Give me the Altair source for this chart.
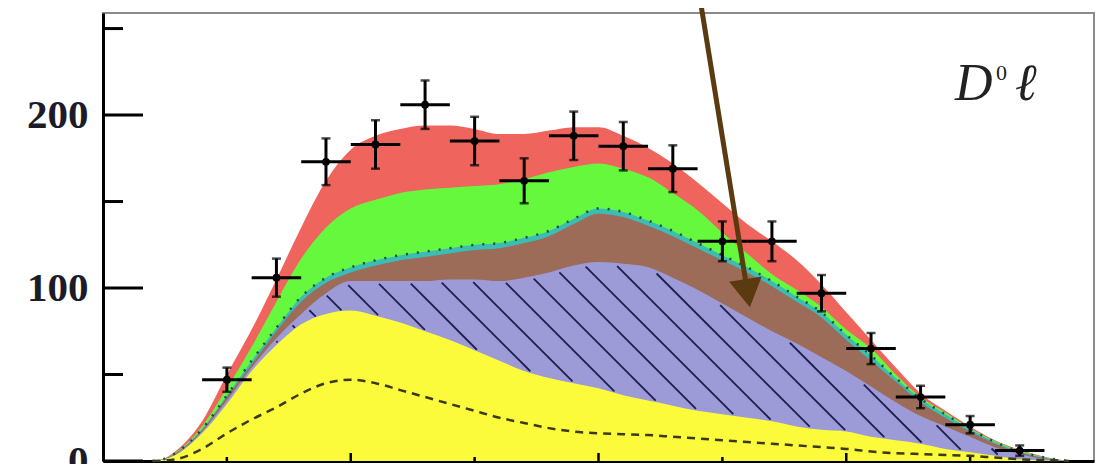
import altair as alt
import numpy as np
import pandas as pd

# ---------------- data ----------------
x_grid = [0.20, 0.25, 0.30, 0.40, 0.50, 0.60, 0.70, 0.80, 0.90, 1.00,
          1.10, 1.20, 1.30, 1.40, 1.50, 1.60, 1.70, 1.80, 1.90, 2.00,
          2.10, 2.20, 2.30, 2.40, 2.50, 2.60, 2.70, 2.80, 2.90, 3.00,
          3.10, 3.20, 3.30, 3.40, 3.50, 3.60, 3.70, 3.80, 3.90]

# cumulative upper edges of the stacked components
yellow_top = [0, 1, 4, 16, 33, 52, 67, 79, 85, 87,
              84, 80, 75, 70, 64, 58, 52, 48, 45, 42,
              38, 35, 32, 29, 27, 25, 23, 20, 18, 17,
              14, 12, 10, 7, 5, 3, 1, 0.3, 0]
blue_top = [0, 1.1, 4.5, 17, 35, 54, 71, 85, 97, 104,
            104, 104, 104, 105, 105, 104, 106, 109, 113, 115,
            114, 112, 106, 99, 91, 83, 75, 68, 60, 52,
            43, 34, 26, 20, 14, 8, 4, 1, 0]
brown_top = [0, 1.2, 5, 18, 37, 56, 75, 92, 103, 109,
             113, 116, 118, 120, 122, 123, 126, 130, 137, 143,
             141, 136, 130, 123, 116, 109, 101, 92, 83, 70,
             58, 46, 34, 25, 17, 10, 5, 1.5, 0]
cyan_top = [0, 1.3, 5.2, 18.5, 38, 58, 77, 95, 106, 112,
            116, 119, 121, 123, 125, 126, 129, 133, 140, 146,
            144, 139, 133, 126, 119, 112, 104, 95, 86, 73,
            61, 48, 36, 27, 18.5, 11, 5.5, 2, 0]
green_top = [0, 1.4, 5.6, 20, 42, 66, 92, 117, 135, 146,
             151, 155, 157, 158, 159, 160, 163, 167, 170, 172,
             169, 164, 155, 145, 132, 120, 108, 99, 89, 76,
             65, 50, 37, 28, 19, 11.5, 6, 2, 0]
red_top = [0, 1.6, 6.5, 23, 50, 76, 105, 135, 162, 180,
           188, 192, 194, 194, 192, 189, 189, 191, 193, 193,
           188, 181, 172, 161, 149, 137, 127, 116, 102, 86,
           70, 54, 39, 29, 20, 12, 6.5, 2.5, 0]
dashed_curve = [0, 0.3, 1.2, 7, 16, 24, 31, 39, 45, 47,
                45, 41, 37, 33, 29, 25, 22, 19, 17, 16,
                15.5, 15, 14, 13, 12, 11, 10, 9, 8, 7,
                5.5, 4.5, 4, 3.5, 3, 2, 1, 0.5, 0]

pts_x = [0.5, 0.7, 0.9, 1.1, 1.3, 1.5, 1.7, 1.9, 2.1, 2.3, 2.5, 2.7, 2.9, 3.1, 3.3, 3.5, 3.7]
pts_y = [47, 106, 173, 183, 206, 185, 162, 188, 182, 169, 127, 127, 97, 65, 37, 21, 6]
pts_yerr = [7, 11, 13.5, 14, 14, 14, 13, 14, 14, 13.5, 11.5, 11.5, 10.5, 9, 6.5, 5, 3]
pts_xerr = 0.1

y_major = [0, 100, 200]
y_minor = [50, 150, 250]
x_major = [1, 2, 3]
x_minor = [0.5, 1.5, 2.5, 3.5]

arrow_x = [2.41, 2.602]
arrow_y = [267, 97]

label_parts = ["D", "0", "\u2113"]
label_x = [3.439, 3.604, 3.681]
label_y = [208.7, 220, 208.7]

# ---------------- layout ----------------
W, H = 991, 448
X_DOM = [0.0, 4.0]
Y_DOM = [0.0, 259.0]
xs = alt.Scale(domain=X_DOM, nice=False, zero=False)
ys = alt.Scale(domain=Y_DOM, nice=False, zero=False)

SERIF = "Liberation Serif"

XAX = alt.Axis(labels=False, ticks=False, grid=False, title=None,
               domainColor="black", domainWidth=3)
YAX = alt.Axis(values=y_major, ticks=False, grid=False, title=None,
               labelFont=SERIF, labelFontSize=41, labelFontWeight="bold",
               labelColor="#1c1c28", labelPadding=15,
               domainColor="black", domainWidth=3)


def X(field):
    return alt.X(field, scale=xs, axis=XAX)


def Y(field, **kw):
    return alt.Y(field, scale=ys, axis=YAX, **kw)


def band(top, color):
    df = pd.DataFrame({"x": x_grid, "top": top})
    return alt.Chart(df).mark_area(color=color, interpolate="monotone").encode(
        x=X("x:Q"), y=Y("top:Q", stack=None), y2=alt.datum(0))


layers = [
    band(red_top, "#f0645e"),
    band(green_top, "#66f83c"),
    band(cyan_top, "#3cbdb4"),
    band(brown_top, "#9c6c58"),
    band(blue_top, "#9c9bd8"),
    band(yellow_top, "#fbfb3c"),
]

# hatching of the blue component, confined between its lower and upper edges
xf = np.linspace(x_grid[0], x_grid[-1], 3000)
lo_f = np.interp(xf, x_grid, yellow_top)
hi_f = np.interp(xf, x_grid, blue_top)
px_x = W / (X_DOM[1] - X_DOM[0])
px_y = H / (Y_DOM[1] - Y_DOM[0])
slope = px_x / px_y
step = 32.0 / px_x
phase = 1.958
segs = []
k0 = int(np.floor((0.2 - phase) / step))
k1 = int(np.ceil((5.5 - phase) / step))
for k in range(k0, k1 + 1):
    x0 = phase + k * step
    vl = slope * (x0 - xf)
    inside = (vl > lo_f + 0.8) & (vl < hi_f - 1.5)
    idx = np.flatnonzero(inside)
    if idx.size == 0:
        continue
    runs = np.split(idx, np.where(np.diff(idx) > 1)[0] + 1)
    for r in runs:
        if len(r) < 4:
            continue
        segs.append({"x": xf[r[0]], "y": vl[r[0]], "x2": xf[r[-1]], "y2": vl[r[-1]]})
hatch_df = pd.DataFrame(segs)
hatch = alt.Chart(hatch_df).mark_rule(color="#1e1e50", strokeWidth=1.8).encode(
    x=X("x:Q"), y=Y("y:Q"), x2="x2:Q", y2="y2:Q")

curve_df = pd.DataFrame({"x": x_grid, "cyan": cyan_top, "dash": dashed_curve})
cyan_dots = alt.Chart(curve_df).mark_line(
    color="#1b4c4c", strokeWidth=2.5, strokeDash=[2, 9], interpolate="monotone").encode(
    x=X("x:Q"), y=Y("cyan:Q"))
dashed = alt.Chart(curve_df).mark_line(
    color="#3a3a18", strokeWidth=2.5, strokeDash=[8, 6], interpolate="monotone").encode(
    x=X("x:Q"), y=Y("dash:Q"))

# axis ticks pointing inwards
ytick_major = alt.Chart(pd.DataFrame({"v": y_major})).mark_rule(color="black", strokeWidth=3).encode(
    y=Y("v:Q"), x=alt.value(0), x2=alt.value(40))
ytick_minor = alt.Chart(pd.DataFrame({"v": y_minor})).mark_rule(color="black", strokeWidth=3).encode(
    y=Y("v:Q"), x=alt.value(0), x2=alt.value(20))
xtick_major = alt.Chart(pd.DataFrame({"t": x_major})).mark_rule(color="black", strokeWidth=2.5).encode(
    x=X("t:Q"), y=alt.value(H), y2=alt.value(H - 8))
xtick_minor = alt.Chart(pd.DataFrame({"t": x_minor})).mark_rule(color="black", strokeWidth=2.5).encode(
    x=X("t:Q"), y=alt.value(H), y2=alt.value(H - 4))

# data points with error bars
pdf = pd.DataFrame({"x": pts_x, "y": pts_y, "e": pts_yerr})
pdf["ylo"] = pdf["y"] - pdf["e"]
pdf["yhi"] = pdf["y"] + pdf["e"]
pdf["xlo"] = pdf["x"] - pts_xerr
pdf["xhi"] = pdf["x"] + pts_xerr
base_p = alt.Chart(pdf)
verr = base_p.mark_rule(color="black", strokeWidth=3).encode(
    x=X("x:Q"), y=Y("ylo:Q"), y2="yhi:Q")
herr = base_p.mark_rule(color="black", strokeWidth=3).encode(
    x=X("xlo:Q"), x2="xhi:Q", y=Y("y:Q"))
cap_lo = base_p.mark_tick(color="black", orient="horizontal", size=9, thickness=2.5).encode(
    x=X("x:Q"), y=Y("ylo:Q"))
cap_hi = base_p.mark_tick(color="black", orient="horizontal", size=9, thickness=2.5).encode(
    x=X("x:Q"), y=Y("yhi:Q"))
dots = base_p.mark_circle(color="black", size=60, opacity=1).encode(
    x=X("x:Q"), y=Y("y:Q"))

# arrow annotation
adf = pd.DataFrame({"x": [arrow_x[0]], "y": [arrow_y[0]], "x2": [arrow_x[1]], "y2": [arrow_y[1]]})
arrow_line = alt.Chart(adf).mark_rule(color="#5a3a0e", strokeWidth=5).encode(
    x=X("x:Q"), y=Y("y:Q"), x2="x2:Q", y2="y2:Q")
arrow_head = alt.Chart(pd.DataFrame({"x": [arrow_x[1]], "y": [arrow_y[1]]})).mark_point(
    shape="triangle-down", filled=True, size=1089, angle=351, color="#5a3a0e", opacity=1).encode(
    x=X("x:Q"), y=Y("y:Q"))


# D0 l label
def label(i, size, style):
    d = pd.DataFrame({"x": [label_x[i]], "y": [label_y[i]], "t": [label_parts[i]]})
    return alt.Chart(d).mark_text(font=SERIF, fontSize=size, fontStyle=style, color="#222222",
                                  align="left", baseline="alphabetic").encode(
        x=X("x:Q"), y=Y("y:Q"), text="t:N")


labels = [label(0, 52, "italic"), label(1, 22, "normal"), label(2, 52, "italic")]

chart = alt.layer(
    *layers, hatch, cyan_dots, dashed,
    ytick_major, ytick_minor, xtick_major, xtick_minor,
    herr, verr, cap_lo, cap_hi, dots,
    arrow_line, arrow_head, *labels,
).properties(
    width=W, height=H,
    autosize=alt.AutoSizeParams(type="none"),
    padding={"left": 95, "top": 5, "right": 2, "bottom": 3},
    background="white",
).configure_view(stroke="#8a8a8a", strokeWidth=2)

chart.save("out.html", embed_options={"renderer": "svg", "actions": False})
